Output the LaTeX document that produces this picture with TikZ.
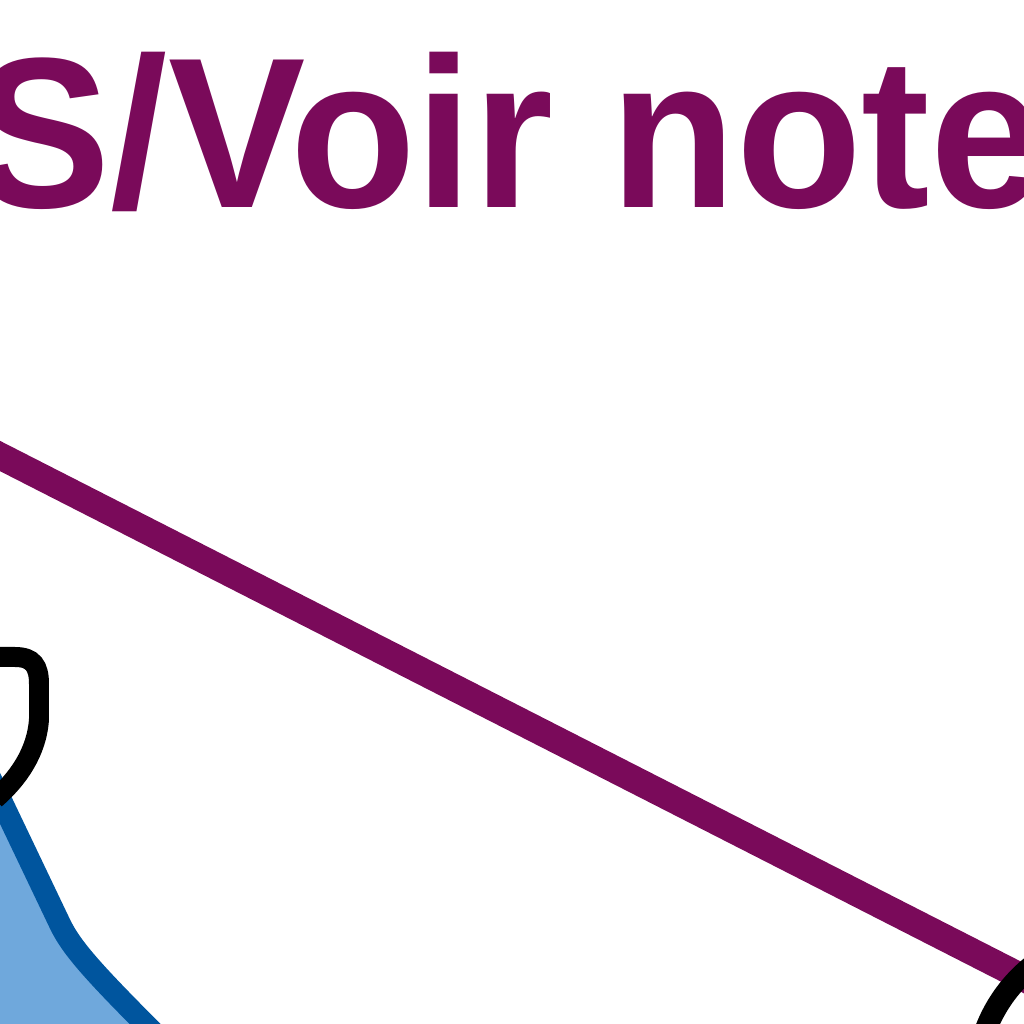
\documentclass[tikz,border=0pt]{standalone}
\usepackage{xcolor}
\usepackage{fontspec}
\usepackage{tikz}
\usetikzlibrary{positioning,shapes,arrows,calc}
\newfontfamily\notefont{Liberation Sans}[FakeStretch=0.96]
\definecolor{noteplum}{RGB}{122, 10, 90}
\definecolor{shapeblue}{RGB}{111, 168, 220}
\definecolor{edgeblue}{RGB}{0, 85, 158}

\begin{document}
\begin{tikzpicture}
        \useasboundingbox (0,0) rectangle (10.24,10.24);
        \node[anchor=base west, inner sep=0, text=noteplum, font=\notefont\bfseries\fontsize{61}{70}\selectfont] (note) at (-0.27,8.16) {S/Voir note};

        % blue shape, lower left
        \filldraw[fill=shapeblue, draw=edgeblue, line width=0.22cm, line join=round] (-0.14,2.55) -- (0.6,1.0) .. controls (0.72,0.75) and (0.95,0.5) .. (1.6,-0.15) -- (1.6,-0.6) -- (-0.6,-0.6) -- (-0.6,2.55) -- cycle;

        % black outline at left
        \draw[line width=0.2cm] (-0.3,3.67) -- (0.15,3.67) .. controls (0.33,3.67) and (0.39,3.58) .. (0.39,3.4) -- (0.39,3.05) .. controls (0.37,2.72) and (0.18,2.45) .. (-0.05,2.25);

        % plum connector into the ring
        \coordinate (from) at (-0.5,5.935);
        \coordinate (tip) at (10.5,0.325);
        \draw[noteplum, line width=0.27cm] (from) -- (tip);
        \node[circle, draw, line width=0.22cm, minimum size=3cm] (ring) at (11.26,-0.59) {};
    \end{tikzpicture}
\end{document}
